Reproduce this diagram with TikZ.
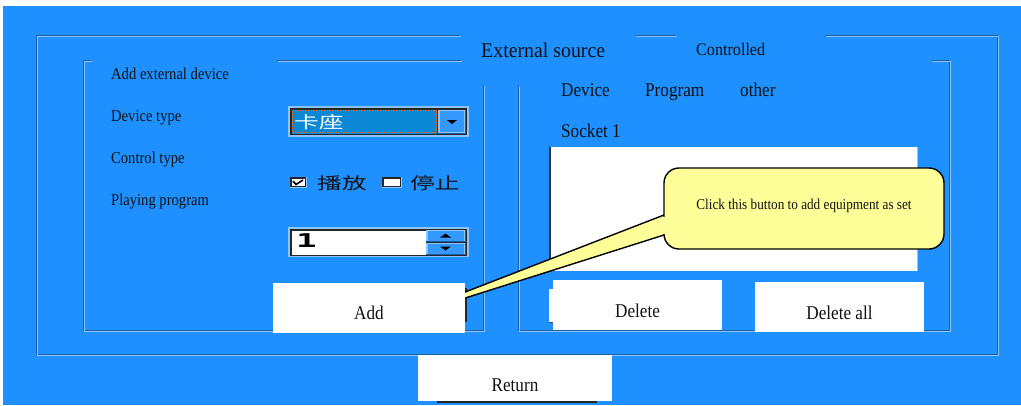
\documentclass[tikz,border=0pt]{standalone}
\usepackage{graphicx}
\usepackage{fontspec}
\setmainfont{Liberation Serif}
\newfontfamily\cjk{Noto Sans CJK SC}
\newfontfamily\monob{DejaVu Sans Mono}
\usetikzlibrary{calc}
\definecolor{bg}{HTML}{1E90FF}
\definecolor{dk}{HTML}{1C5EA8}
\definecolor{lt}{HTML}{8CC6FA}
\definecolor{field}{HTML}{0A88D6}
\definecolor{btn}{HTML}{3399FF}
\definecolor{tipyel}{HTML}{FFFF99}
\definecolor{ink}{HTML}{111111}
\newcommand{\sq}[1]{\scalebox{0.88}[1]{#1}}
\newcommand{\fitw}[2]{\resizebox{#1}{\height}{#2}}
\newcommand{\cjkw}[1]{\scalebox{1.5}[1]{#1}}
\newcommand{\groove}[1]{\draw[dkline] #1; \draw[ltline,shift={(1,1)}] #1;}
\begin{document}
\begin{tikzpicture}[x=1pt,y=-1pt,
  dkline/.style={draw=dk,line width=1pt},
  ltline/.style={draw=lt,line width=1pt},
  lbl/.style={anchor=base west,inner sep=0pt,text=ink,font=\fontsize{16.6}{18}\selectfont},
  hdr/.style={anchor=base west,inner sep=0pt,text=ink,font=\fontsize{19.5}{21}\selectfont},
  button/.style={fill=white,inner sep=0pt,text=ink,text depth=0pt,font=\fontsize{19.5}{21}\selectfont},
  cjktxt/.style={anchor=west,inner sep=0pt,font=\fontsize{16.5}{18}\cjk},
  box/.style={inner sep=0pt,anchor=north west},
  edge/.style={draw=black!85,line width=1.5pt}
]
\useasboundingbox (0,0) rectangle (1021,405);
\fill[white] (0,0) rectangle (1021,405);
\fill[bg] (3,6) rectangle (1021,405);

% frames
\groove{(460,35) -- (36,35) -- (36,354) -- (997,354) -- (997,35) -- (825,35)}
\groove{(635,35) -- (676,35)}
\groove{(91,60) -- (83,60) -- (83,330) -- (483,330) -- (483,85)}
\groove{(277,60) -- (461,60)}
\groove{(518,85) -- (518,330) -- (949,330) -- (949,60) -- (931,60)}

% dropdown
\node[box,minimum width=181,minimum height=31,fill=lt] (dd) at (288,106) {};
\fill[black!85] (289.5,107.5) rectangle (467,135);
\fill[field] (291.5,109.5) rectangle (437,133.5);
\draw[orange!80!red,densely dotted,line width=0.6pt] (292.5,110.5) rectangle (436,132.5);
\fill[dk] (438,109.5) rectangle (466,134);
\fill[lt] (438,109.5) rectangle (465,133);
\fill[btn] (439.5,111) rectangle (464,132);
\fill[black] (447,120) -- (457,120) -- (452,124) -- cycle;
\node[cjktxt,text=white] (ddtext) at (294,122.5) {\cjkw{卡座}};

% checkboxes
\node[box,minimum width=17,minimum height=11,fill=lt] (cb1) at (290,177) {};
\fill[black!85] (290,177) rectangle (306,187);
\fill[white] (292,179) rectangle (305,186);
\draw[black,line width=1.6pt] (293,181) -- (296,184.5) -- (303,180);
\node[cjktxt,text=ink] (play) at (317,183) {\cjkw{播放}};
\node[box,minimum width=20,minimum height=11,fill=lt] (cb2) at (382,177) {};
\fill[black!85] (382,177) rectangle (401,187);
\fill[white] (384,179) rectangle (400,186);
\node[cjktxt,text=ink] (stop) at (410,183) {\cjkw{停止}};

% spin box
\node[box,minimum width=181,minimum height=30,fill=lt] (spin) at (288,227) {};
\fill[black!85] (289.5,228.5) rectangle (467,255.5);
\fill[white] (291.5,230.5) rectangle (425.5,255);
\fill[dk] (426,229.5) rectangle (466,242);
\fill[lt] (426,229.5) rectangle (465,241);
\fill[btn] (427.5,231) rectangle (464,240.5);
\fill[dk] (426,242.5) rectangle (466,255);
\fill[lt] (426,242.5) rectangle (465,254);
\fill[btn] (427.5,244) rectangle (464,253.5);
\fill[black] (440,237.5) -- (451,237.5) -- (445.5,233.5) -- cycle;
\fill[black] (440,246.5) -- (451,246.5) -- (445.5,250.5) -- cycle;
\node[anchor=base west,inner sep=0pt,text=black,font=\fontsize{19}{20}\monob\bfseries] (spinval) at (296,247) {\scalebox{1.8}[1]{1}};

% list box
\node[box,fill=white,minimum width=367,minimum height=124] (list) at (550,147) {};
\draw[black!80,line width=1.5pt] (list.north west) -- (list.south west);
\draw[lt,line width=1.5pt] (list.north east) -- (list.south east);

% partly hidden button edges
\draw[edge] (466,288) -- (466,322);
\fill[white] (549,289) rectangle (553,322);
\draw[black!70,line width=0.8pt] (549,322) -- (553,322);

% callout
\coordinate (w1) at (664,215);
\coordinate (w2) at (664,235);
\coordinate (tipend) at (380,325);
\filldraw[fill=tipyel,draw=black,line width=1.4pt] (w1) -- (tipend) -- (w2) -- ($(w2)+(12,0)$) -- ($(w1)+(12,0)$) -- cycle;
\node[draw=black,line width=1.4pt,fill=tipyel,rounded corners=15pt,minimum width=280,minimum height=81,inner sep=0pt,text=ink,text height=9pt,text depth=8pt,font=\fontsize{15}{17}\selectfont] (call) at (804,208.5) {\sq{Click this button to add equipment as set}};
\fill[tipyel] (661.5,217.3) rectangle (668,233.8);

% buttons
\node[button,minimum width=192,minimum height=50,text height=22pt] (add) at (369,308) {\sq{Add}};
\node[button,minimum width=169,minimum height=50,text height=24pt] (del) at (637.5,305) {\sq{Delete}};
\node[button,minimum width=169,minimum height=50,text height=24pt] (delall) at (839.5,307) {\sq{Delete all}};
\node[button,minimum width=194,minimum height=46,text height=26pt] (ret) at (515,378) {\sq{Return}};
\draw[edge] (437,401.8) -- (597,401.8);

% labels
\node[anchor=base west,inner sep=0pt,text=ink,font=\fontsize{21}{23}\selectfont] (ext) at (481,57) {\fitw{124pt}{External source}};
\node[anchor=base west,inner sep=0pt,text=ink,font=\fontsize{17.6}{19}\selectfont] (ctl) at (696,55) {\fitw{69pt}{Controlled}};
\node[lbl] (addext) at (111,79.3) {\sq{Add external device}};
\node[lbl] (devtype) at (111,121) {\sq{Device type}};
\node[lbl] (ctltype) at (111,163) {\sq{Control type}};
\node[lbl] (playprog) at (111,205) {\sq{Playing program}};
\node[hdr] (hdev) at (561,96) {\sq{Device}};
\node[hdr] (hprog) at (645,96) {\sq{Program}};
\node[hdr] (hoth) at (740,96) {\sq{other}};
\node[hdr] (sock) at (561,137) {\sq{Socket 1}};
\end{tikzpicture}
\end{document}
